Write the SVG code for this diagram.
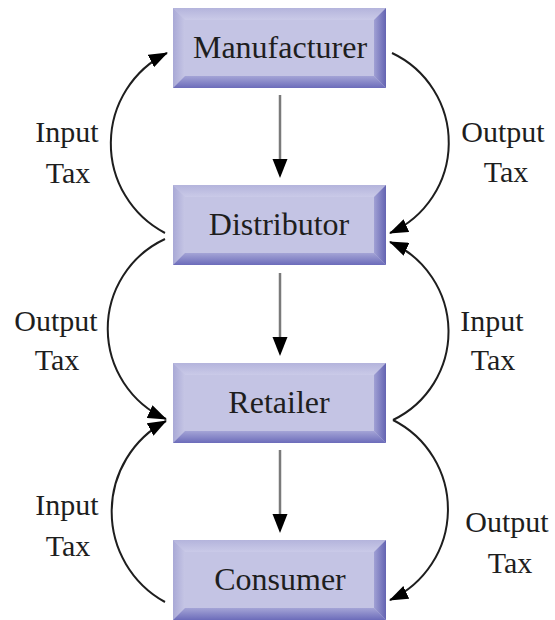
<svg xmlns="http://www.w3.org/2000/svg" xmlns:xlink="http://www.w3.org/1999/xlink" width="555" height="620" viewBox="0 0 555 620">
<style>
.lbl{font-family:"Liberation Serif","Times New Roman",serif;font-size:30px;fill:#1e1e1e;text-anchor:middle}
.box{font-family:"Liberation Serif","Times New Roman",serif;font-size:32px;fill:#1e1e1e;text-anchor:middle}
.curve{fill:none;stroke:#1e1e1e;stroke-width:2}
.vline{stroke:#7a7a7a;stroke-width:2.5}
.head{fill:#000}
</style>
<defs>
<linearGradient id="gl" x1="0" y1="0" x2="1" y2="0"><stop offset="0" stop-color="#a9a9d6"/><stop offset="1" stop-color="#c6c6e5"/></linearGradient>
<linearGradient id="gt" x1="0" y1="0" x2="0" y2="1"><stop offset="0" stop-color="#b4b4dc"/><stop offset="1" stop-color="#cacae8"/></linearGradient>
<linearGradient id="gb" x1="0" y1="0" x2="0" y2="1"><stop offset="0" stop-color="#a4a4d6"/><stop offset="1" stop-color="#6c6cba"/></linearGradient>
<linearGradient id="gr" x1="0" y1="0" x2="1" y2="0"><stop offset="0" stop-color="#a0a0d4"/><stop offset="1" stop-color="#6464b2"/></linearGradient>
<g id="bx">
<rect x="0" y="0" width="213" height="80" fill="#c4c4e4"/>
<polygon points="0,0 213,0 201,12 12,12" fill="url(#gt)"/>
<polygon points="0,0 12,12 12,68 0,80" fill="url(#gl)"/>
<polygon points="0,80 12,68 201,68 213,80" fill="url(#gb)"/>
<polygon points="213,0 213,80 201,68 201,12" fill="url(#gr)"/>
</g>
<marker id="ah" markerWidth="20" markerHeight="14" refX="18" refY="7" orient="auto" markerUnits="userSpaceOnUse"><path d="M0,0 L19,7 L0,14 z" fill="#000"/></marker>
</defs>

<g id="connectors">
<line class="vline" x1="280" y1="95" x2="280" y2="162"/>
<polygon class="head" points="272.5,159 287.5,159 280,178"/>
<line class="vline" x1="280" y1="273" x2="280" y2="340"/>
<polygon class="head" points="272.5,337 287.5,337 280,356"/>
<line class="vline" x1="280" y1="450" x2="280" y2="517"/>
<polygon class="head" points="272.5,514 287.5,514 280,533"/>
<path class="curve" d="M165,233 A101,101 0 0 1 167,53" marker-end="url(#ah)"/>
<path class="curve" d="M392,53 A99,99 0 0 1 390,233" marker-end="url(#ah)"/>
<path class="curve" d="M165,239 A99,99 0 0 0 166,419" marker-end="url(#ah)"/>
<path class="curve" d="M393,420 A98,98 0 0 0 390,242" marker-end="url(#ah)"/>
<path class="curve" d="M165,602 A103,103 0 0 1 166,421" marker-end="url(#ah)"/>
<path class="curve" d="M393,420 A100,100 0 0 1 390,600" marker-end="url(#ah)"/>
<text class="lbl" x="67" y="142">Input</text>
<text class="lbl" x="68" y="183">Tax</text>
<text class="lbl" x="503" y="142">Output</text>
<text class="lbl" x="506" y="182">Tax</text>
<text class="lbl" x="56" y="331">Output</text>
<text class="lbl" x="57" y="370">Tax</text>
<text class="lbl" x="492" y="331">Input</text>
<text class="lbl" x="493" y="370">Tax</text>
<text class="lbl" x="67" y="515">Input</text>
<text class="lbl" x="68" y="556">Tax</text>
<text class="lbl" x="507" y="532">Output</text>
<text class="lbl" x="510" y="573">Tax</text>
</g>

<g id="manufacturer" transform="translate(173,8)"><use xlink:href="#bx"/><text class="box" x="107" y="50">Manufacturer</text></g>
<g id="distributor" transform="translate(173,185)"><use xlink:href="#bx"/><text class="box" x="106" y="50">Distributor</text></g>
<g id="retailer" transform="translate(173,363)"><use xlink:href="#bx"/><text class="box" x="106" y="50">Retailer</text></g>
<g id="consumer" transform="translate(173,540)"><use xlink:href="#bx"/><text class="box" x="107" y="50">Consumer</text></g>
</svg>
